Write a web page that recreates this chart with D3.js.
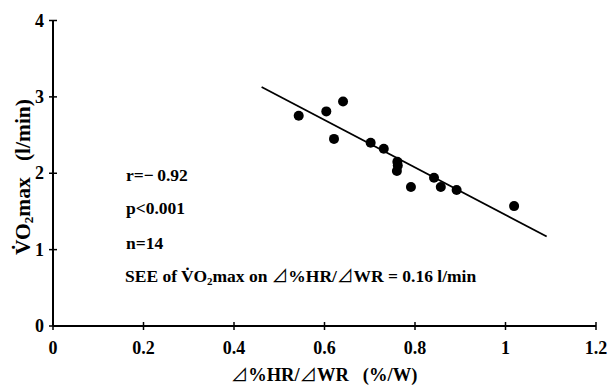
<!DOCTYPE html>
<html><head><meta charset="utf-8">
<script src="https://cdn.jsdelivr.net/npm/d3@7"></script>
<style>
html,body{margin:0;padding:0;background:#fff;}
svg{display:block;}
</style></head>
<body>
<svg id="chart" width="609" height="385" font-family="'Liberation Serif', Tinos, 'Times New Roman', serif" font-weight="bold"></svg>
<script>
// Data
const xValues = [0.543, 0.604, 0.641, 0.621, 0.702, 0.731, 0.761, 0.762, 0.760, 0.791, 0.842, 0.857, 0.892, 1.019];
const yValues = [2.754, 2.81, 2.94, 2.45, 2.40, 2.32, 2.15, 2.10, 2.03, 1.82, 1.94, 1.82, 1.78, 1.57];
const fitX = [0.461, 1.091];
const fitY = [3.13, 1.171];
const xTicks = [0, 0.2, 0.4, 0.6, 0.8, 1, 1.2];
const xTickLabels = ["0", "0.2", "0.4", "0.6", "0.8", "1", "1.2"];
const yTicks = [0, 1, 2, 3, 4];
const yTickLabels = ["0", "1", "2", "3", "4"];
const statLines = ["r=\u2212\u20090.92", "p<0.001", "n=14"];

const svg = d3.select("#chart");
const x = d3.scaleLinear().domain([0, 1.2]).range([53, 596]);
const y = d3.scaleLinear().domain([0, 4]).range([326, 20.5]);

svg.append("line").attr("x1", x(0)).attr("x2", x(1.2)).attr("y1", y(0)).attr("y2", y(0))
  .attr("stroke", "#000").attr("stroke-width", 2);
svg.append("line").attr("x1", x(0)).attr("x2", x(0)).attr("y1", y(0)).attr("y2", y(4))
  .attr("stroke", "#000").attr("stroke-width", 2);

const xt = svg.append("g");
xt.selectAll("line").data(xTicks).join("line")
  .attr("x1", d => x(d)).attr("x2", d => x(d))
  .attr("y1", y(0) - 4).attr("y2", y(0) + 4)
  .attr("stroke", "#000").attr("stroke-width", 1.5);
xt.selectAll("text").data(xTicks).join("text")
  .attr("x", d => x(d)).attr("y", 353.5)
  .attr("text-anchor", "middle").attr("font-size", 18)
  .text((d, i) => xTickLabels[i]);

const yt = svg.append("g");
yt.selectAll("line").data(yTicks).join("line")
  .attr("x1", x(0) - 4).attr("x2", x(0) + 4)
  .attr("y1", d => y(d)).attr("y2", d => y(d))
  .attr("stroke", "#000").attr("stroke-width", 1.5);
yt.selectAll("text").data(yTicks).join("text")
  .attr("x", 44).attr("y", d => y(d) + 6)
  .attr("text-anchor", "end").attr("font-size", 18)
  .text((d, i) => yTickLabels[i]);

svg.append("line")
  .attr("x1", x(fitX[0])).attr("y1", y(fitY[0]))
  .attr("x2", x(fitX[1])).attr("y2", y(fitY[1]))
  .attr("stroke", "#000").attr("stroke-width", 1.8);

svg.append("g").selectAll("circle").data(xValues).join("circle")
  .attr("cx", d => x(d)).attr("cy", (d, i) => y(yValues[i]))
  .attr("r", 5).attr("fill", "#000");

const statY = [181, 214, 249];
svg.append("g").selectAll("text").data(statLines).join("text")
  .attr("x", 126).attr("y", (d, i) => statY[i])
  .attr("font-size", 17.5).text(d => d);

const tri = "'Noto Sans CJK JP', 'DejaVu Sans', sans-serif";
const see = svg.append("text").attr("x", 125).attr("y", 282).attr("font-size", 17.5);
see.append("tspan").text("SEE of V\u0307O");
see.append("tspan").attr("font-size", 11).attr("dy", 3).text("2");
see.append("tspan").attr("dy", -3).text("max on ");
see.append("tspan").attr("font-family", tri).attr("font-weight", "normal").attr("font-size", 16.5).text("\u22BF");
see.append("tspan").text("%HR/");
see.append("tspan").attr("font-family", tri).attr("font-weight", "normal").attr("font-size", 16.5).text("\u22BF");
see.append("tspan").text("WR = 0.16 l/min");

const xtitle = svg.append("text").attr("x", 324).attr("y", 381).attr("text-anchor", "middle").attr("font-size", 18.5);
xtitle.append("tspan").attr("font-family", tri).attr("font-weight", "normal").attr("font-size", 17.5).text("\u22BF");
xtitle.append("tspan").text("%HR/");
xtitle.append("tspan").attr("font-family", tri).attr("font-weight", "normal").attr("font-size", 17.5).text("\u22BF");
xtitle.append("tspan").text("WR\u2002 (%/W)");

const ytitle = svg.append("text").attr("transform", "translate(30,177) rotate(-90)")
  .attr("text-anchor", "middle").attr("font-size", 21.5);
ytitle.append("tspan").text("V\u0307O");
ytitle.append("tspan").attr("font-size", 13).attr("dy", 3).text("2");
ytitle.append("tspan").attr("dy", -3).text("max\u2002 (l/min)");
</script>
</body></html>
